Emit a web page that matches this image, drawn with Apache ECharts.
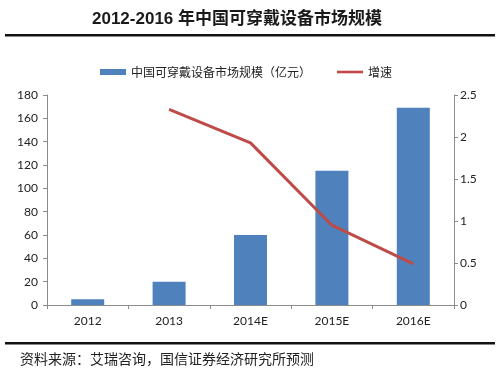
<!DOCTYPE html>
<html><head><meta charset="utf-8">
<script src="https://cdn.jsdelivr.net/npm/echarts@6/dist/echarts.min.js"></script>
<style>html,body{margin:0;padding:0;background:#fff}#c{width:500px;height:372px}</style>
</head><body><div id="c"></div>
<script>
const categories = ['2012', '2013', '2014E', '2015E', '2016E'];
const marketSize = [5, 20, 60, 115, 169];
const growth = [null, 2.33, 1.93, 0.95, 0.49];
const leftTicks = [0, 180, 20];
const rightTicks = [0, 2.5, 0.5];
const barName = '中国可穿戴设备市场规模（亿元）';
const lineName = '增速';

const chart = echarts.init(document.getElementById('c'));
const axisFont = 'Lato, "Noto Sans CJK SC", sans-serif';
chart.setOption({
  animation: false,
  backgroundColor: '#fff',
  title: {
    text: '2012-2016 年中国可穿戴设备市场规模',
    left: 232, top: 6, textAlign: 'center',
    textStyle: {fontSize: 17, fontWeight: 'bold', color: '#1a1a1a', fontFamily: '"Liberation Sans", "Noto Sans CJK SC", sans-serif'}
  },
  legend: {
    top: 61, left: 95, itemGap: 26, itemWidth: 26, itemHeight: 6,
    textStyle: {fontSize: 12, color: '#222', fontFamily: '"Noto Sans CJK SC", sans-serif'},
    data: [
      {name: barName, icon: 'rect'},
      {name: lineName, icon: 'path://M0,0 L30,0 L30,3 L0,3 Z', itemStyle: {color: '#be4b48'}}
    ]
  },
  grid: {left: 47, right: 46, top: 95, bottom: 67},
  xAxis: {
    type: 'category', data: categories,
    axisLine: {lineStyle: {color: '#8c8c8c'}},
    axisTick: {show: true, length: 4, lineStyle: {color: '#8c8c8c'}},
    axisLabel: {fontSize: 12, color: '#222', margin: 10, fontFamily: axisFont}
  },
  yAxis: [
    {
      type: 'value', min: leftTicks[0], max: leftTicks[1], interval: leftTicks[2],
      axisLine: {show: true, lineStyle: {color: '#8c8c8c'}},
      axisTick: {show: true, length: 4, lineStyle: {color: '#8c8c8c'}},
      splitLine: {show: false},
      axisLabel: {fontSize: 12, color: '#222', margin: 9, fontFamily: axisFont}
    },
    {
      type: 'value', min: rightTicks[0], max: rightTicks[1], interval: rightTicks[2],
      axisLine: {show: true, lineStyle: {color: '#8c8c8c'}},
      axisTick: {show: true, length: 4, lineStyle: {color: '#8c8c8c'}},
      splitLine: {show: false},
      axisLabel: {fontSize: 12, color: '#222', margin: 6, fontFamily: axisFont}
    }
  ],
  series: [
    {
      name: barName, type: 'bar', data: marketSize, barWidth: 33,
      itemStyle: {color: '#4f81bd'}
    },
    {
      name: lineName, type: 'line', yAxisIndex: 1, data: growth,
      symbol: 'none', lineStyle: {color: '#be4b48', width: 3},
      itemStyle: {color: '#be4b48'}
    }
  ],
  graphic: [
    {type: 'rect', shape: {x: 5, y: 34, width: 490, height: 2.5}, style: {fill: '#111'}},
    {type: 'rect', shape: {x: 5, y: 342, width: 490, height: 2.5}, style: {fill: '#111'}},
    {type: 'text', left: 20, top: 352, style: {text: '资料来源：艾瑞咨询，国信证券经济研究所预测', fill: '#222', font: '14px "Noto Sans CJK SC", sans-serif'}}
  ]
});
</script></body></html>
